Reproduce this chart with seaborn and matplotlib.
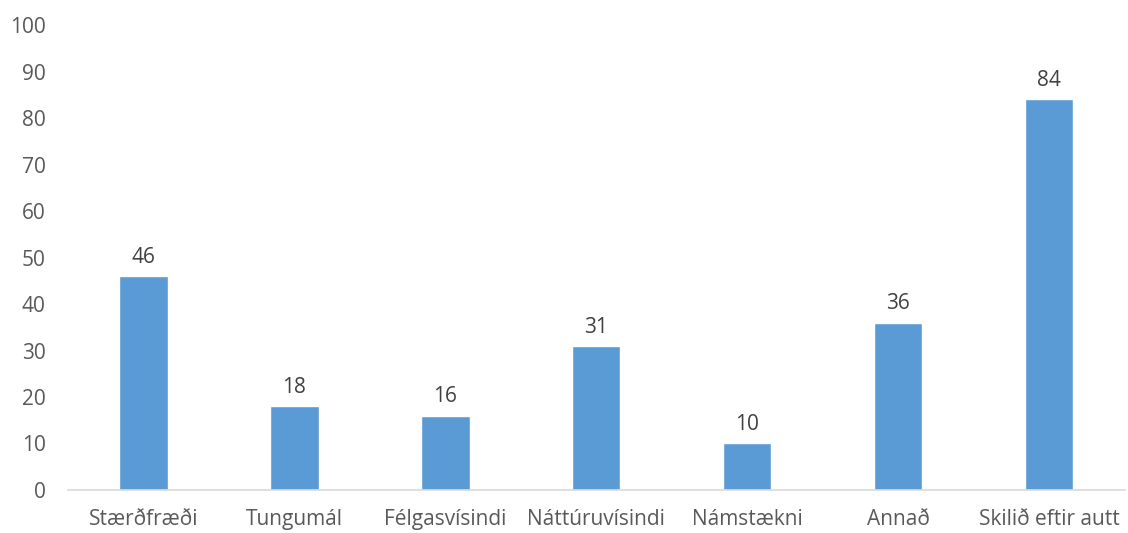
import matplotlib
matplotlib.use("Agg")
import matplotlib.pyplot as plt
import pandas as pd
import seaborn as sns

# Data
categories = ["Stærðfræði", "Tungumál", "Félgasvísindi", "Náttúruvísindi",
              "Námstækni", "Annað", "Skilið eftir autt"]
values = [46, 18, 16, 31, 10, 36, 84]

df = pd.DataFrame({"flokkur": categories, "fjoldi": values})

sns.set_style("white")
plt.rcParams["font.family"] = ["Open Sans", "DejaVu Sans"]

fig = plt.figure(figsize=(11.28, 5.33), dpi=100)
ax = fig.add_axes([0.0603, 0.0807, 0.9367, 0.8723])

sns.barplot(data=df, x="flokkur", y="fjoldi", color="#5B9BD5",
            width=0.32, saturation=1, ax=ax)

ax.bar_label(ax.containers[0], fmt="%d", padding=6, fontsize=15, color="#404040")

ax.set_ylim(0, 100)
ax.set_yticks(range(0, 101, 10))
ax.set_xlim(-0.5, len(categories) - 0.5)
ax.set_xlabel("")
ax.set_ylabel("")

for side in ["top", "right", "left"]:
    ax.spines[side].set_visible(False)
ax.spines["bottom"].set_color("#D9D9D9")
ax.spines["bottom"].set_linewidth(1.2)

ax.tick_params(axis="both", length=0, labelsize=15, labelcolor="#595959")
ax.tick_params(axis="x", pad=14)
ax.tick_params(axis="y", pad=16)

fig.savefig("out.png", dpi=100)
